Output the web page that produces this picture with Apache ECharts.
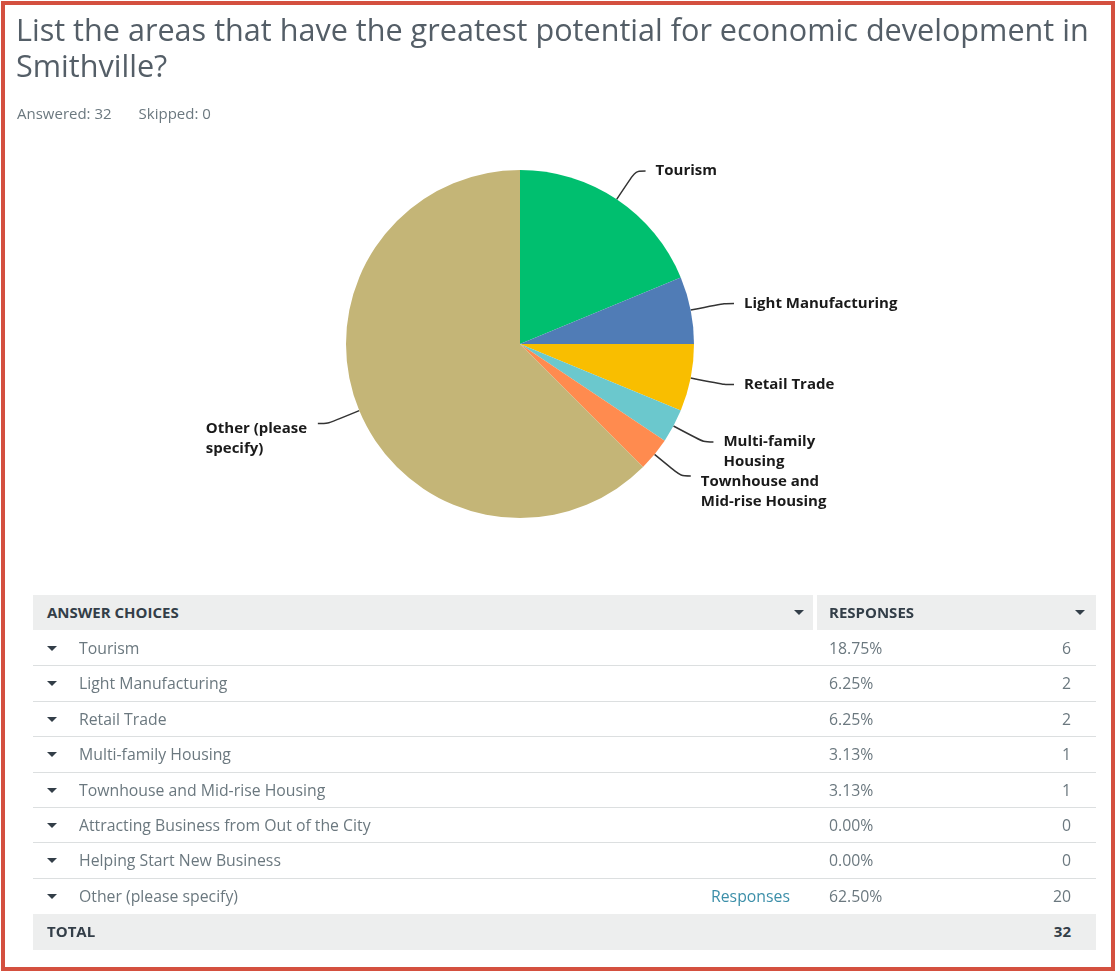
<!DOCTYPE html>
<html><head><meta charset="utf-8">
<script src="https://cdn.jsdelivr.net/npm/echarts@6/dist/echarts.min.js"></script>
<style>
html,body{margin:0;padding:0;background:#fff;width:1116px;height:973px;overflow:hidden;font-family:"Open Sans",sans-serif;}
#frame{position:absolute;left:1px;top:1px;width:1106px;height:962px;border:4px solid #d4503f;pointer-events:none;}
#chart{position:absolute;left:0;top:0;width:1116px;height:973px;}
#title{position:absolute;left:16px;top:11px;width:1095px;font-size:30.6px;line-height:36px;color:#545e67;}
#meta{position:absolute;left:17px;top:103px;font-size:15px;color:#6b787f;}
#meta span{margin-right:27px;}
.hdr{position:absolute;top:595px;height:35px;background:#edeeee;font-size:15px;font-weight:700;color:#333e48;line-height:35px;}
.row{position:absolute;left:33px;width:1063px;height:35.4px;line-height:35px;font-size:15.8px;color:#6b787f;}
.sep{border-bottom:1.5px solid #dcdfe0;box-sizing:border-box;}
.caret{position:absolute;width:0;height:0;border-left:5px solid transparent;border-right:5px solid transparent;border-top:5px solid #333e48;}
.cell{position:absolute;top:0;white-space:nowrap;}
</style></head>
<body>
<div id="chart"></div>
<div id="title">List the areas that have the greatest potential for economic development in Smithville?</div>
<div id="meta"><span>Answered: 32</span><span>Skipped: 0</span></div>
<div id="table"></div>
<div id="frame"></div>
<script>
const categories = ["Tourism","Light Manufacturing","Retail Trade","Multi-family Housing","Townhouse and Mid-rise Housing","Attracting Business from Out of the City","Helping Start New Business","Other (please specify)"];
const pieLabels = ["Tourism","Light Manufacturing","Retail Trade","Multi-family\nHousing","Townhouse and\nMid-rise Housing","","","Other (please\nspecify)"];
const percents = ["18.75%","6.25%","6.25%","3.13%","3.13%","0.00%","0.00%","62.50%"];
const counts = [6,2,2,1,1,0,0,20];
const total = 32;
const colors = ["#00bf6f","#507cb6","#f9be00","#6bc8cd","#ff8b4f","#7d7dd6","#d25f90","#c4b577"];

// Table
const tbl = document.getElementById('table');
let h = '';
h += '<div class="hdr" style="left:33px;width:780px;"><span style="position:absolute;left:14px;">ANSWER CHOICES</span><div class="caret" style="left:761px;top:15px;"></div></div>';
h += '<div class="hdr" style="left:817px;width:279px;"><span style="position:absolute;left:12px;">RESPONSES</span><div class="caret" style="left:258px;top:15px;"></div></div>';
const rowTop = 631, rowH = 35.4;
categories.forEach((c,i)=>{
  const top = rowTop + i*rowH;
  const sep = i < categories.length-1 ? ' sep' : '';
  h += '<div class="row'+sep+'" style="top:'+top+'px;">' +
    '<div class="caret" style="left:14px;top:15px;"></div>' +
    '<div class="cell" style="left:46px;">'+c+'</div>' +
    (i===categories.length-1 ? '<div class="cell" style="left:678px;color:#3c8fa9;">Responses</div>' : '') +
    '<div class="cell" style="left:796px;">'+percents[i]+'</div>' +
    '<div class="cell" style="right:25px;">'+counts[i]+'</div></div>';
});
const tTop = rowTop + categories.length*rowH;
h += '<div class="row" style="top:'+tTop+'px;background:#edeeee;font-weight:700;color:#333e48;font-size:15px;">' +
  '<div class="cell" style="left:14px;">TOTAL</div><div class="cell" style="right:25px;">'+total+'</div></div>';
tbl.innerHTML = h;

// Pie
const labelFont = 'bold 15px "Open Sans"';
const cv = document.createElement('canvas').getContext('2d');
cv.font = labelFont;
const measure = s => cv.measureText(s).width;
const richBase = {fontFamily:'Open Sans',fontWeight:'bold',fontSize:15,color:'#1a1a1a',lineHeight:20,align:'left'};
// extra top padding per two-line label (style only)
const labelPadTop = {3:20, 4:32, 7:30};

const chart = echarts.init(document.getElementById('chart'), null, {renderer:'canvas'});
const data = categories.map((c,i)=>{
  const d = {name:c, value:counts[i], itemStyle:{color:colors[i]}};
  if (counts[i] === 0) { d.label = {show:false}; d.labelLine = {show:false}; }
  else if (pieLabels[i].indexOf('\n')>=0) {
    const w = Math.ceil(Math.max(...pieLabels[i].split('\n').map(measure)));
    d.label = {padding:[labelPadTop[i]||20,0,0,0], rich:{a:Object.assign({}, richBase, {width:w})}};
  }
  return d;
});
chart.setOption({
  animation:false,
  series:[{
    type:'pie',
    center:[520,344],
    radius:174,
    startAngle:90,
    clockwise:true,
    avoidLabelOverlap:false,
    labelLayout:{hideOverlap:false},
    data:data,
    itemStyle:{borderWidth:0},
    label:{
      show:true,
      position:'outside',
      distanceToLabelLine:10,
      formatter:(p)=>pieLabels[p.dataIndex].split('\n').map(l=>'{a|'+l+'}').join('\n'),
      rich:{a:richBase}
    },
    labelLine:{show:true,length:34,length2:10,smooth:0.3,lineStyle:{color:'#333',width:1.5}}
  }]
});
</script>
</body></html>
